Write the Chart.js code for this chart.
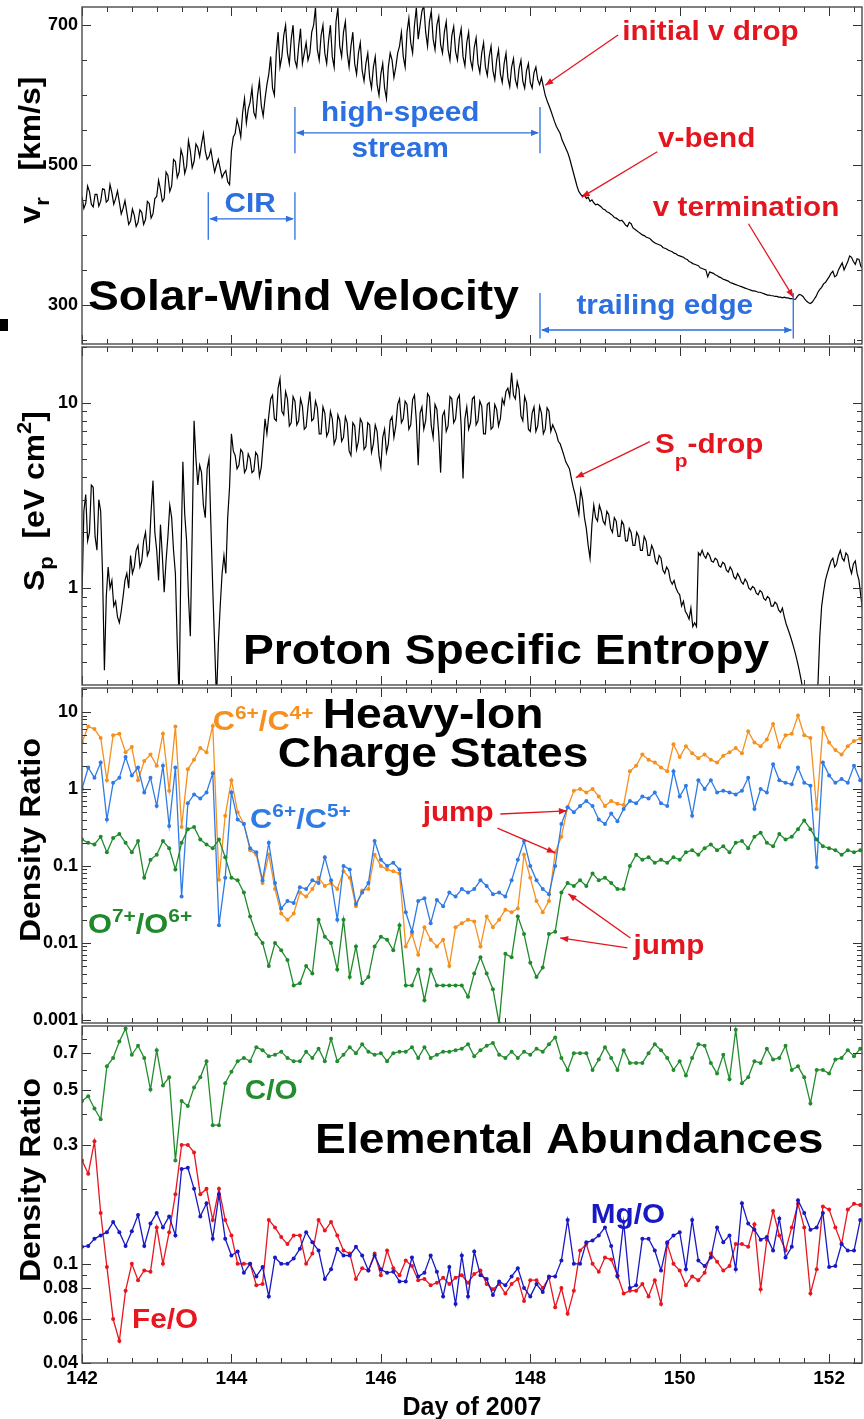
<!DOCTYPE html>
<html>
<head>
<meta charset="utf-8">
<script src="https://cdn.jsdelivr.net/npm/chart.js@4.4.1/dist/chart.umd.min.js"></script>
<style>
  body { margin: 0; background: #fff; }
  #wrap { position: relative; width: 864px; height: 1419px; background: #fff; overflow: hidden; }
  canvas { position: absolute; left: 0; }
  #blot { position: absolute; left: 0; top: 319px; width: 8px; height: 12px; background: #000; }
</style>
</head>
<body>
<div id="wrap">
  <canvas id="vel" style="top:0px" width="864" height="346"></canvas>
  <canvas id="ent" style="top:345px" width="864" height="342"></canvas>
  <canvas id="ion" style="top:686px" width="864" height="345"></canvas>
  <canvas id="abund" style="top:1024px" width="864" height="395"></canvas>
  <div id="blot"></div>
</div>
<script>
// ---- data: solar wind speed (km/s), one value every 0.025 day from day 142.000
var velStart = 142, velStep = 0.025;
var velocity = [
  455,438,445,470,462,444,440,458,458,441, 448,466,465,447,450,472,460,444,452,463,
  447,430,438,449,432,415,420,437,428,412, 418,436,432,415,422,448,445,424,430,452,
  455,478,465,448,452,490,485,462,470,508, 505,482,490,522,512,488,498,535,520,496,
  505,530,525,512,530,545,520,508,512,522, 505,490,500,508,495,482,488,492,476,472,
  520,540,545,565,555,540,575,595,560,580, 590,610,575,568,600,620,585,570,595,615,
  630,655,610,600,660,690,640,655,685,700, 660,645,680,700,650,640,670,695,645,660,
  675,650,660,690,700,725,665,650,685,700, 660,645,678,700,655,640,705,725,670,655,
  690,705,660,640,670,690,645,630,660,675, 635,620,645,660,625,610,640,655,615,600,
  630,645,610,595,640,660,650,625,640,660, 670,690,655,640,690,710,675,660,700,725,
  680,700,720,728,690,670,705,720,680,665, 700,712,672,660,690,705,665,650,685,698,
  662,650,680,695,655,642,675,690,650,638, 668,682,645,632,660,675,640,628,655,670,
  635,622,650,665,630,618,645,660,625,612, 640,652,622,612,638,650,620,610,635,645,
  618,610,632,640,622,615,625,612,600,592, 585,578,570,562,555,550,545,536,530,524,
  518,510,500,490,480,470,462,458,455,458, 452,454,448,450,446,443,444,442,440,437,
  436,433,432,430,428,425,424,422,420,421, 418,414,412,418,416,410,408,406,404,402,
  400,399,397,396,395,392,390,388,387,386, 385,382,381,380,378,377,376,374,373,371,
  370,369,368,366,365,362,361,359,358,357, 356,353,352,351,350,340,347,346,345,343,
  342,340,339,337,336,335,334,332,331,330, 329,328,327,326,325,324,323,322,321,320,
  320,319,318,318,317,316,315,314,314,313, 313,312,312,311,311,310,311,310,310,309,
  309,308,308,312,315,314,312,308,305,303, 302,304,308,312,318,322,325,330,332,336,
  340,345,348,340,342,350,355,360,350,356, 362,370,368,362,358,366,365,355,352
];
// proton specific entropy (eV cm^2), same sampling
var entropy = [
  0.9,2.6,3.2,1.8,2.0,3.6,3.5,1.9,1.6,3.0, 2.6,1.2,0.36,0.9,1.3,1.0,1.1,0.8,0.85,0.7,
  0.65,0.75,0.9,1.1,1.2,1.0,1.5,1.2,1.3,1.6, 1.7,1.3,1.4,1.8,2.0,1.5,1.6,2.6,3.8,2.0,
  1.6,1.1,2.2,1.5,0.95,1.4,1.9,2.8,2.4,1.6, 1.2,0.5,0.25,1.5,4.8,2.5,1.8,0.9,0.55,2.0,
  8.0,5.0,3.6,4.6,4.2,2.8,2.4,4.4,5.0,2.2, 1.0,0.5,0.25,0.5,0.8,1.2,1.5,1.2,2.4,3.5,
  6.8,5.5,5.2,4.4,4.6,5.6,5.4,4.2,4.4,5.3, 5.0,4.2,4.3,5.4,5.2,4.0,4.5,6.0,8.2,6.8,
  8.5,10.5,11.0,8.2,8.0,12.0,13.5,9.0,8.6,11.5, 10.5,7.5,7.8,10.8,10.2,7.6,8.0,10.5,9.6,7.2,
  7.4,9.5,11.5,8.0,8.2,10.2,9.4,6.8,6.8,9.5, 8.8,6.6,7.0,9.0,8.2,6.0,6.4,8.6,8.0,6.2,
  6.5,8.4,7.8,5.5,5.2,7.8,7.5,5.6,6.2,8.2, 7.8,5.6,5.8,7.8,7.6,5.4,6.0,7.6,7.0,5.2,
  4.5,6.5,7.2,5.4,6.0,8.0,8.4,6.5,7.5,9.8, 10.5,7.8,8.2,10.2,9.8,7.2,7.6,10.4,11.0,8.0,
  4.6,8.8,9.5,7.2,8.0,11.2,10.8,7.5,6.5,9.8, 9.2,6.8,4.2,8.5,9.0,7.0,7.5,10.8,10.5,7.8,
  8.2,10.5,11.0,7.5,3.9,8.2,9.5,7.2,7.8,10.5, 10.8,7.6,8.0,10.2,9.6,6.8,6.8,9.8,10.0,7.2,
  7.4,9.8,9.2,7.5,8.2,10.5,9.8,11.5,12.0,10.8, 14.5,11.0,10.5,13.0,11.8,8.5,8.0,10.8,10.0,7.2,
  7.0,8.8,9.5,7.0,7.5,9.6,8.8,6.8,7.2,9.4, 9.0,7.0,7.6,7.2,6.8,6.2,6.0,5.6,5.2,4.8,
  4.6,4.4,3.9,3.5,3.2,2.8,2.5,3.4,3.0,2.4, 2.1,1.7,1.45,2.2,2.8,2.4,2.3,2.8,2.6,2.3,
  2.2,2.6,2.5,2.1,2.0,2.4,2.3,1.9,1.9,2.3, 2.2,1.8,1.8,2.1,2.0,1.7,1.7,2.0,1.9,1.6,
  1.6,1.9,1.8,1.5,1.5,1.7,1.6,1.4,1.35,1.5, 1.45,1.25,1.2,1.3,1.25,1.1,1.05,1.1,1.0,0.95,
  0.92,0.8,0.85,0.75,0.72,0.68,0.78,0.62,0.65,0.62, 1.55,1.5,1.6,1.5,1.45,1.55,1.5,1.4,1.38,1.45,
  1.42,1.32,1.3,1.38,1.35,1.25,1.22,1.3,1.25,1.15, 1.12,1.2,1.15,1.08,1.05,1.12,1.08,1.0,0.98,1.02,
  1.0,0.94,0.92,0.97,0.95,0.88,0.86,0.9,0.88,0.8, 0.8,0.84,0.82,0.76,0.74,0.78,0.7,0.64,0.6,0.56,
  0.52,0.48,0.44,0.4,0.36,0.32,0.28,0.24,0.2,0.2, 0.2,0.2,0.2,0.2,0.3,0.55,0.8,0.95,1.1,1.2,
  1.3,1.4,1.45,1.3,1.35,1.5,1.6,1.45,1.4,1.55, 1.5,1.3,1.2,1.35,1.4,1.2,1.1,0.9,0.75
];

// heavy-ion data, one value every 2 hours from day 142.0
var ionStart = 142, ionStep = 1 / 12;
var c6c4 = [
  4.0,6.5,6.0,4.6,1.3,5.0,5.2,3.0,3.5,1.3,2.3,2.8,
  2.0,5.2,0.95,6.5,0.32,1.8,2.4,3.4,3.0,6.6,0.066,0.45,
  1.3,0.5,0.35,0.16,0.14,0.06,0.14,0.05,0.024,0.02,0.024,0.045,
  0.04,0.05,0.07,0.055,0.06,0.05,0.085,0.07,0.03,0.048,0.05,0.14,
  0.1,0.09,0.085,0.08,0.009,0.013,0.007,0.016,0.011,0.009,0.011,0.005,
  0.016,0.018,0.02,0.019,0.009,0.022,0.016,0.02,0.027,0.025,0.028,0.14,
  0.07,0.035,0.025,0.035,0.15,0.24,0.58,0.95,1.0,0.9,1.0,0.8,
  0.6,0.7,0.64,0.62,1.7,2.0,2.8,2.4,2.2,1.9,1.7,3.8,
  2.6,3.6,2.9,2.5,2.8,2.4,2.2,2.7,3.0,3.4,2.9,5.6,
  4.0,3.6,4.4,7.0,3.5,5.0,5.2,9.0,5.0,4.6,0.55,6.2,
  4.0,3.2,2.8,3.6,4.2,4.5
];
var c6c5 = [
  1.0,1.9,1.4,2.2,0.4,1.2,1.4,2.6,1.5,1.9,0.9,1.4,
  0.6,2.0,0.33,1.9,0.04,0.65,0.85,0.75,0.9,1.6,0.017,0.07,
  0.9,0.4,0.35,0.17,0.15,0.065,0.2,0.06,0.028,0.035,0.033,0.053,
  0.05,0.065,0.06,0.13,0.065,0.02,0.1,0.09,0.032,0.045,0.06,0.21,
  0.12,0.1,0.11,0.09,0.025,0.014,0.035,0.038,0.018,0.036,0.03,0.045,
  0.04,0.05,0.045,0.05,0.065,0.055,0.043,0.045,0.04,0.065,0.12,0.21,
  0.1,0.065,0.05,0.043,0.1,0.35,0.58,0.5,0.6,0.7,0.6,0.4,
  0.35,0.48,0.38,0.55,0.7,0.65,0.8,0.75,0.9,0.65,0.6,1.7,
  0.8,1.1,0.45,1.3,1.0,1.3,0.9,0.95,0.9,0.85,0.95,1.4,
  0.55,1.0,0.9,2.1,1.3,1.2,1.15,1.9,1.2,1.1,0.096,2.2,
  1.5,1.2,1.35,1.2,2.0,1.3
];
var o7o6 = [
  0.22,0.2,0.19,0.24,0.15,0.23,0.26,0.2,0.15,0.21,0.07,0.12,
  0.14,0.21,0.17,0.09,0.2,0.3,0.32,0.22,0.19,0.17,0.22,0.13,
  0.07,0.065,0.045,0.022,0.013,0.01,0.005,0.01,0.008,0.006,0.0028,0.003,
  0.005,0.004,0.02,0.012,0.01,0.0045,0.02,0.0036,0.009,0.003,0.0036,0.009,
  0.012,0.011,0.008,0.017,0.0028,0.0028,0.0045,0.0018,0.0045,0.0028,0.0028,0.0028,
  0.0028,0.0028,0.002,0.004,0.0065,0.004,0.0025,0.0009,0.0072,0.0065,0.022,0.013,
  0.0055,0.0036,0.0048,0.013,0.014,0.045,0.06,0.055,0.065,0.055,0.08,0.065,
  0.07,0.06,0.05,0.05,0.1,0.14,0.12,0.13,0.11,0.12,0.11,0.13,
  0.12,0.15,0.16,0.14,0.17,0.19,0.16,0.18,0.15,0.2,0.21,0.17,
  0.24,0.27,0.2,0.18,0.26,0.22,0.24,0.3,0.39,0.3,0.22,0.18,
  0.17,0.16,0.14,0.16,0.15,0.16
];
var cO = [
  0.45,0.47,0.42,0.38,0.62,0.67,0.78,0.88,0.69,0.75,0.67,0.5,
  0.72,0.52,0.56,0.26,0.45,0.43,0.51,0.56,0.65,0.36,0.36,0.53,
  0.59,0.65,0.67,0.65,0.74,0.72,0.68,0.69,0.71,0.67,0.65,0.65,
  0.71,0.67,0.73,0.65,0.8,0.65,0.69,0.74,0.7,0.76,0.71,0.69,
  0.7,0.65,0.7,0.71,0.71,0.74,0.67,0.74,0.67,0.69,0.71,0.71,
  0.72,0.73,0.76,0.68,0.72,0.75,0.77,0.69,0.67,0.71,0.67,0.71,
  0.69,0.73,0.71,0.76,0.81,0.67,0.6,0.7,0.7,0.7,0.6,0.66,
  0.74,0.67,0.6,0.72,0.64,0.64,0.64,0.7,0.76,0.72,0.67,0.6,
  0.65,0.57,0.67,0.76,0.75,0.64,0.58,0.69,0.55,0.87,0.53,0.56,
  0.65,0.64,0.73,0.66,0.67,0.75,0.6,0.62,0.56,0.44,0.6,0.6,
  0.58,0.66,0.67,0.72,0.68,0.73
];
var feO = [
  0.26,0.23,0.31,0.16,0.097,0.06,0.049,0.078,0.1,0.086,0.094,0.093,
  0.14,0.1,0.134,0.19,0.3,0.3,0.28,0.19,0.2,0.15,0.2,0.15,
  0.13,0.1,0.1,0.1,0.082,0.083,0.15,0.14,0.128,0.12,0.13,0.13,
  0.1,0.11,0.15,0.136,0.147,0.13,0.113,0.11,0.087,0.096,0.094,0.11,
  0.09,0.113,0.096,0.09,0.103,0.098,0.086,0.087,0.082,0.084,0.088,0.083,
  0.088,0.09,0.084,0.091,0.094,0.083,0.079,0.083,0.076,0.083,0.087,0.071,
  0.086,0.086,0.08,0.088,0.067,0.08,0.063,0.078,0.113,0.12,0.1,0.093,
  0.106,0.104,0.09,0.076,0.078,0.078,0.083,0.074,0.086,0.069,0.12,0.1,
  0.094,0.082,0.089,0.086,0.092,0.11,0.102,0.094,0.098,0.12,0.12,0.117,
  0.144,0.079,0.125,0.163,0.13,0.113,0.14,0.174,0.14,0.076,0.095,0.17,
  0.165,0.14,0.12,0.165,0.174,0.172
];
var mgO = [
  0.117,0.118,0.126,0.13,0.134,0.147,0.134,0.118,0.135,0.157,0.118,0.145,
  0.16,0.14,0.155,0.13,0.24,0.243,0.2,0.155,0.175,0.126,0.19,0.126,
  0.108,0.112,0.092,0.1,0.089,0.097,0.074,0.106,0.1,0.1,0.105,0.115,
  0.134,0.122,0.113,0.087,0.095,0.115,0.108,0.108,0.117,0.108,0.094,0.108,
  0.095,0.092,0.093,0.085,0.085,0.106,0.089,0.092,0.108,0.093,0.074,0.097,
  0.069,0.108,0.074,0.112,0.09,0.087,0.075,0.085,0.082,0.089,0.096,0.08,
  0.074,0.083,0.077,0.089,0.089,0.103,0.15,0.1,0.1,0.122,0.124,0.13,
  0.14,0.118,0.089,0.147,0.08,0.082,0.126,0.126,0.113,0.094,0.122,0.13,
  0.134,0.095,0.15,0.103,0.098,0.106,0.14,0.122,0.13,0.095,0.175,0.145,
  0.137,0.125,0.128,0.113,0.152,0.106,0.117,0.18,0.16,0.137,0.14,0.16,
  0.097,0.098,0.12,0.113,0.113,0.15
];

// axes
var dayMin = 142, dayMax = 152.44;
var dayLabels = [142, 144, 146, 148, 150, 152];
var velTicks = [250, 300, 350, 400, 450, 500, 550, 600, 650, 700];
var velLabels = [300, 500, 700];
var entTicks = [0.4, 0.5, 0.6, 0.7, 0.8, 0.9, 1, 2, 3, 4, 5, 6, 7, 8, 9, 10, 20];
var entLabels = [1, 10];
var ionLabels = [0.001, 0.01, 0.1, 1, 10];
var abTicks = [0.04, 0.05, 0.06, 0.07, 0.08, 0.09, 0.1, 0.2, 0.3, 0.4, 0.5, 0.6, 0.7, 0.8];
var abLabels = [0.04, 0.06, 0.08, 0.1, 0.3, 0.5, 0.7];

var dayTicks = [];
for (var k = 0; k <= 31; k++) dayTicks.push(142 + k / 3);
var ionTicks = [];
[0.001, 0.01, 0.1, 1, 10].forEach(function (d) {
  for (var m = 1; m <= 9; m++) ionTicks.push(+(d * m).toPrecision(3));
});
ionTicks.push(20);

var FONT = '"Liberation Sans", Arial, Helvetica, sans-serif';
var STRETCH = 1.1;
var RED = '#e3161f', ABLUE = '#2b6fe0';
Chart.defaults.font.family = FONT;
Chart.defaults.color = '#000';

function pts(arr, start, step) {
  return arr.map(function (v, i) { return { x: start + i * step, y: v }; });
}
function isLabel(list, v) {
  return list.some(function (l) { return Math.abs(l - v) < Math.abs(l) * 1e-6; });
}

function setFont(ctx, size) { ctx.font = 'bold ' + size + 'px ' + FONT; }
function drawRich(ctx, parts, x, y, color, align, rot) {
  ctx.save();
  ctx.translate(x, y);
  if (rot) ctx.rotate(rot);
  ctx.scale(STRETCH, 1);
  ctx.fillStyle = color;
  ctx.textBaseline = 'alphabetic';
  ctx.textAlign = 'left';
  var w = 0;
  parts.forEach(function (p) { setFont(ctx, p[1]); w += ctx.measureText(p[0]).width; });
  var cx = align === 'center' ? -w / 2 : 0;
  parts.forEach(function (p) {
    setFont(ctx, p[1]);
    ctx.fillText(p[0], cx, p[2] || 0);
    cx += ctx.measureText(p[0]).width;
  });
  ctx.restore();
}
function head(ctx, x1, y1, x2, y2) {
  var a = Math.atan2(y2 - y1, x2 - x1), len = 8, half = 3.2;
  ctx.beginPath();
  ctx.moveTo(x2, y2);
  ctx.lineTo(x2 - len * Math.cos(a) + half * Math.sin(a), y2 - len * Math.sin(a) - half * Math.cos(a));
  ctx.lineTo(x2 - len * Math.cos(a) - half * Math.sin(a), y2 - len * Math.sin(a) + half * Math.cos(a));
  ctx.closePath();
  ctx.fill();
}

// frame, inward ticks, panel labels and arrows
var decor = {
  id: 'decor',
  afterDraw: function (chart, args, o) {
    var ctx = chart.ctx, a = chart.chartArea;
    var xs = chart.scales.x, ys = chart.scales.y;
    var X = function (v) { return xs.getPixelForValue(v); };
    var Y = function (v) { return ys.getPixelForValue(v); };
    ctx.save();
    ctx.strokeStyle = '#333';
    ctx.lineWidth = 1;
    ctx.beginPath();
    dayTicks.forEach(function (d) {
      var px = Math.round(X(d)) + 0.5, len = isLabel(dayLabels, d) ? 9 : 5;
      ctx.moveTo(px, a.top); ctx.lineTo(px, a.top + len);
      ctx.moveTo(px, a.bottom); ctx.lineTo(px, a.bottom - len);
    });
    o.yTicks.forEach(function (v) {
      var py = Y(v);
      if (py < a.top || py > a.bottom) return;
      py = Math.round(py) + 0.5;
      var len = isLabel(o.yLabels, v) ? 9 : 5;
      ctx.moveTo(a.left, py); ctx.lineTo(a.left + len, py);
      ctx.moveTo(a.right, py); ctx.lineTo(a.right - len, py);
    });
    ctx.stroke();
    ctx.strokeStyle = '#4a4a4a';
    ctx.lineWidth = 1.4;
    ctx.strokeRect(a.left, a.top, a.right - a.left, a.bottom - a.top);

    (o.notes || []).forEach(function (n) {
      ctx.strokeStyle = n.color; ctx.fillStyle = n.color; ctx.lineWidth = 1.3;
      if (n.kind === 'text') {
        drawRich(ctx, n.parts, X(n.x), Y(n.y), n.color, n.align);
      } else if (n.kind === 'arrow') {
        var x1 = X(n.from[0]), y1 = Y(n.from[1]), x2 = X(n.to[0]), y2 = Y(n.to[1]);
        ctx.beginPath(); ctx.moveTo(x1, y1); ctx.lineTo(x2, y2); ctx.stroke();
        head(ctx, x1, y1, x2, y2);
      } else if (n.kind === 'span') {
        var l = X(n.x1), r = X(n.x2), t = Y(n.top), b = Y(n.bottom), m = Y(n.at);
        ctx.beginPath();
        ctx.moveTo(l, t); ctx.lineTo(l, b);
        ctx.moveTo(r, t); ctx.lineTo(r, b);
        ctx.moveTo(l + 2, m); ctx.lineTo(r - 2, m);
        ctx.stroke();
        head(ctx, r, m, l + 1, m);
        head(ctx, l, m, r - 1, m);
      }
    });
    if (o.yTitle) {
      drawRich(ctx, o.yTitle.parts, o.yTitle.x, o.yTitle.cy - o.top, '#000', 'center', -Math.PI / 2);
    }
    ctx.restore();
  }
};
Chart.register(decor);

function noPad(s) { s.paddingTop = 0; s.paddingBottom = 0; s.paddingLeft = 0; s.paddingRight = 0; }

function panelOptions(c) {
  return {
    responsive: false,
    animation: false,
    events: [],
    layout: { autoPadding: false, padding: { left: 0, right: 2, top: c.padTop, bottom: c.padBottom } },
    plugins: { legend: { display: false }, tooltip: { enabled: false }, decor: c.decor },
    scales: {
      x: {
        type: 'linear', min: dayMin, max: dayMax, display: !!c.showX,
        grid: { display: false, drawTicks: false },
        border: { display: false },
        afterBuildTicks: function (s) { s.ticks = dayTicks.map(function (v) { return { value: v }; }); },
        afterFit: function (s) { s.height = c.showX ? 56 : 0; noPad(s); },
        ticks: {
          autoSkip: false, maxRotation: 0, padding: 4, color: '#000',
          font: { size: 19, weight: 'bold' },
          callback: function (v) { return isLabel(dayLabels, v) ? String(Math.round(v)) : ''; }
        },
        title: {
          display: !!c.showX, text: 'Day of 2007', color: '#000',
          font: { size: 25, weight: 'bold' }, padding: { top: 0, bottom: -4 }
        }
      },
      y: {
        type: c.yType, min: c.yMin, max: c.yMax,
        grid: { display: false, drawTicks: false },
        border: { display: false },
        afterBuildTicks: function (s) { s.ticks = c.decor.yTicks.map(function (v) { return { value: v }; }); },
        afterFit: function (s) { s.width = 82; noPad(s); },
        ticks: {
          autoSkip: false, padding: 4, color: '#000',
          font: { size: 18, weight: 'bold' },
          callback: function (v) { return isLabel(c.decor.yLabels, v) ? String(v) : ''; }
        }
      }
    }
  };
}

function lineSet(data, color, dots) {
  return {
    data: data, borderColor: color, backgroundColor: color,
    borderWidth: dots ? 1.3 : 1.2,
    pointRadius: dots ? 2 : 0, pointBorderWidth: 0, pointBackgroundColor: color,
    tension: 0, fill: false
  };
}

// panel 1: velocity
new Chart(document.getElementById('vel'), {
  type: 'line',
  data: { datasets: [lineSet(pts(velocity, velStart, velStep), '#000', false)] },
  options: panelOptions({
    padTop: 7, padBottom: 2, yType: 'linear', yMin: 244, yMax: 726,
    decor: {
      top: 0, yTicks: velTicks, yLabels: velLabels,
      yTitle: { parts: [['v', 29], ['r', 20, 9], ['   [km/s]', 29]], x: 40, cy: 150 },
      notes: [
        { kind: 'text', x: 142.08, y: 292.6, parts: [['Solar-Wind Velocity', 42]], color: '#000' },
        { kind: 'text', x: 149.23, y: 679, parts: [['initial v drop', 27]], color: RED },
        { kind: 'arrow', from: [149.175, 686], to: [148.2, 614], color: RED },
        { kind: 'text', x: 149.71, y: 526, parts: [['v-bend', 27]], color: RED },
        { kind: 'arrow', from: [149.7, 519], to: [148.69, 454], color: RED },
        { kind: 'text', x: 149.64, y: 427, parts: [['v termination', 27]], color: RED },
        { kind: 'arrow', from: [150.92, 416], to: [151.52, 311], color: RED },
        { kind: 'text', x: 149.8, y: 287, parts: [['trailing edge', 27]], color: ABLUE, align: 'center' },
        { kind: 'span', x1: 148.13, x2: 151.52, top: 317, bottom: 252, at: 264, color: ABLUE },
        { kind: 'text', x: 146.26, y: 563, parts: [['high-speed', 27]], color: ABLUE, align: 'center' },
        { kind: 'text', x: 146.26, y: 511, parts: [['stream', 27]], color: ABLUE, align: 'center' },
        { kind: 'span', x1: 144.85, x2: 148.13, top: 583, bottom: 517, at: 546, color: ABLUE },
        { kind: 'text', x: 144.25, y: 433, parts: [['CIR', 27]], color: ABLUE, align: 'center' },
        { kind: 'span', x1: 143.69, x2: 144.85, top: 461, bottom: 393, at: 423, color: ABLUE }
      ]
    }
  })
});

// panel 2: proton specific entropy
new Chart(document.getElementById('ent'), {
  type: 'line',
  data: { datasets: [lineSet(pts(entropy, velStart, velStep), '#000', false)] },
  options: panelOptions({
    padTop: 2, padBottom: 2, yType: 'logarithmic', yMin: 0.305, yMax: 20,
    decor: {
      top: 345, yTicks: entTicks, yLabels: entLabels,
      yTitle: { parts: [['S', 29], ['p', 20, 9], ['  [eV cm', 29], ['2', 20, -13], [']', 29]], x: 44, cy: 501 },
      notes: [
        { kind: 'text', x: 144.155, y: 0.391, parts: [['Proton Specific Entropy', 42]], color: '#000' },
        { kind: 'text', x: 149.67, y: 5.39, parts: [['S', 27], ['p', 19, 14], ['-drop', 27]], color: RED },
        { kind: 'arrow', from: [149.6, 6.17], to: [148.61, 3.95], color: RED }
      ]
    }
  })
});

// panel 3: heavy-ion charge states
var ORANGE = '#f5901f', CBLUE = '#2f7be6', GREEN = '#1f8a2b';
new Chart(document.getElementById('ion'), {
  type: 'line',
  data: {
    datasets: [
      lineSet(pts(o7o6, ionStart, ionStep), GREEN, true),
      lineSet(pts(c6c5, ionStart, ionStep), CBLUE, true),
      lineSet(pts(c6c4, ionStart, ionStep), ORANGE, true)
    ]
  },
  options: panelOptions({
    padTop: 2, padBottom: 8, yType: 'logarithmic', yMin: 0.00091, yMax: 20.5,
    decor: {
      top: 686, yTicks: ionTicks, yLabels: ionLabels,
      yTitle: { parts: [['Density Ratio', 29]], x: 40, cy: 840 },
      notes: [
        { kind: 'text', x: 143.75, y: 5.84, parts: [['C', 28], ['6+', 19, -11], ['/C', 28], ['4+', 19, -11]], color: ORANGE },
        { kind: 'text', x: 146.7, y: 6.2, parts: [['Heavy-Ion', 42]], color: '#000', align: 'center' },
        { kind: 'text', x: 146.7, y: 1.93, parts: [['Charge States', 42]], color: '#000', align: 'center' },
        { kind: 'text', x: 144.25, y: 0.31, parts: [['C', 28], ['6+', 19, -11], ['/C', 28], ['5+', 19, -11]], color: CBLUE },
        { kind: 'text', x: 142.08, y: 0.0134, parts: [['O', 28], ['7+', 19, -11], ['/O', 28], ['6+', 19, -11]], color: GREEN },
        { kind: 'text', x: 146.56, y: 0.384, parts: [['jump', 27]], color: RED },
        { kind: 'arrow', from: [147.6, 0.473], to: [148.49, 0.52], color: RED },
        { kind: 'arrow', from: [147.56, 0.31], to: [148.33, 0.148], color: RED },
        { kind: 'text', x: 149.38, y: 0.00721, parts: [['jump', 27]], color: RED },
        { kind: 'arrow', from: [149.34, 0.0116], to: [148.51, 0.0433], color: RED },
        { kind: 'arrow', from: [149.3, 0.00862], to: [148.4, 0.0116], color: RED }
      ]
    }
  })
});

// panel 4: elemental abundances
var COG = '#238c2e', FERED = '#e8161f', MGBLUE = '#1818c4';
new Chart(document.getElementById('abund'), {
  type: 'line',
  data: {
    datasets: [
      lineSet(pts(cO, ionStart, ionStep), COG, true),
      lineSet(pts(mgO, ionStart, ionStep), MGBLUE, true),
      lineSet(pts(feO, ionStart, ionStep), FERED, true)
    ]
  },
  options: panelOptions({
    padTop: 2, padBottom: 0, yType: 'logarithmic', yMin: 0.04, yMax: 0.9, showX: true,
    decor: {
      top: 1024, yTicks: abTicks, yLabels: abLabels,
      yTitle: { parts: [['Density Ratio', 29]], x: 40, cy: 1180 },
      notes: [
        { kind: 'text', x: 144.18, y: 0.459, parts: [['C/O', 27]], color: COG },
        { kind: 'text', x: 145.12, y: 0.279, parts: [['Elemental Abundances', 42]], color: '#000' },
        { kind: 'text', x: 148.81, y: 0.146, parts: [['Mg/O', 27]], color: MGBLUE },
        { kind: 'text', x: 142.67, y: 0.0553, parts: [['Fe/O', 27]], color: FERED }
      ]
    }
  })
});
</script>
</body>
</html>
